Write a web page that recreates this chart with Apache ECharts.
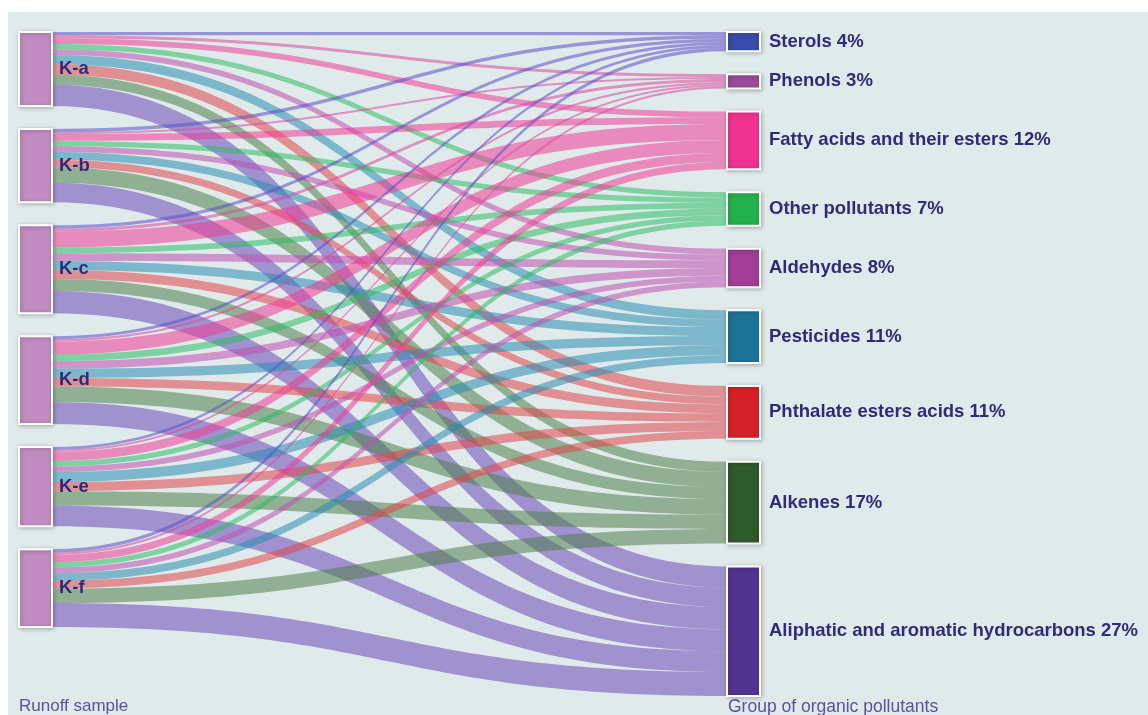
<!DOCTYPE html>
<html><head><meta charset="utf-8">
<script src="https://cdn.jsdelivr.net/npm/echarts@6/dist/echarts.min.js"></script>
<style>html,body{margin:0;padding:0;background:#fff;}#chart{position:absolute;left:8px;top:12px;width:1140px;height:703px;}</style>
</head><body><div id="chart"></div>
<script>
// ---- data ----
const samples = ['K-a', 'K-b', 'K-c', 'K-d', 'K-e', 'K-f'];
const pollutants = ['Sterols', 'Phenols', 'Fatty acids and their esters', 'Other pollutants', 'Aldehydes',
  'Pesticides', 'Phthalate esters acids', 'Alkenes', 'Aliphatic and aromatic hydrocarbons'];
const pollutantShares = [4, 3, 12, 7, 8, 11, 11, 17, 27];
// flow (% of total) from each runoff sample to each pollutant group, in pollutant order
const flowKa = [0.7, 0.6, 1.2, 1.1, 1.2, 1.9, 2.2, 2.1, 4.4];
const flowKb = [0.7, 0.4, 1.4, 1.1, 1.2, 1.6, 1.6, 3.2, 4.1];
const flowKc = [0.7, 0.6, 3.3, 1.2, 1.6, 1.9, 1.9, 2.5, 4.6];
const flowKd = [0.6, 0.5, 2.7, 1.4, 1.6, 1.9, 1.8, 3.2, 4.6];
const flowKe = [0.6, 0.4, 1.9, 1.1, 1.2, 2.1, 1.9, 3.0, 4.3];
const flowKf = [0.7, 0.5, 1.5, 1.1, 1.2, 1.6, 1.6, 3.0, 5.0];
const flows = [flowKa, flowKb, flowKc, flowKd, flowKe, flowKf];

// ---- styles ----
const sampleColor = '#c18cc1';
const pollutantColors = ['#3a4ca8', '#9a4b9c', '#ee3391', '#22b14c', '#a23d98', '#1b7396', '#d62027', '#2f5a29', '#4f3490'];
const linkColors = ['#5b4fc9', '#d9479f', '#ee3d96', '#2dbb63', '#c04fb0', '#2a8cb0', '#e0454a', '#4f7f4a', '#6a48b8'];
const labelColor = '#302a7a';
const axisNameColor = '#5b4fa6';

const nodes = [];
samples.forEach(s => nodes.push({
  name: s,
  itemStyle: { color: sampleColor },
  label: { position: 'right', distance: 6 }
}));
pollutants.forEach((p, i) => nodes.push({
  name: p,
  itemStyle: { color: pollutantColors[i] },
  label: { position: 'right', distance: 8, formatter: p + ' ' + pollutantShares[i] + '%' }
}));
const links = [];
samples.forEach((s, si) => {
  pollutants.forEach((p, pi) => {
    links.push({ source: s, target: p, value: flows[si][pi], lineStyle: { color: linkColors[pi] } });
  });
});

const chart = echarts.init(document.getElementById('chart'), null, { renderer: 'canvas' });
chart.setOption({
  backgroundColor: '#e0eaea',
  animation: false,
  graphic: [
    { type: 'text', left: 11, top: 686, style: { text: 'Runoff sample', fill: axisNameColor, font: '17px "Liberation Sans", Arial, sans-serif' } },
    { type: 'text', left: 720, top: 686, style: { text: 'Group of organic pollutants', fill: axisNameColor, font: '17.5px "Liberation Sans", Arial, sans-serif' } }
  ],
  series: [{
    type: 'sankey',
    left: 11, right: 388, top: 20, bottom: 19,
    nodeWidth: 33,
    nodeGap: 23,
    layoutIterations: 0,
    draggable: false,
    emphasis: { disabled: true },
    data: nodes,
    links: links,
    itemStyle: { borderColor: '#ffffff', borderWidth: 2, shadowBlur: 4, shadowColor: 'rgba(0,0,0,0.25)', shadowOffsetX: 1, shadowOffsetY: 1 },
    lineStyle: { opacity: 0.55, curveness: 0.5 },
    label: {
      color: labelColor,
      fontFamily: '"Liberation Sans", Arial, sans-serif',
      fontWeight: 'bold',
      fontSize: 18.5
    }
  }]
});
</script></body></html>
